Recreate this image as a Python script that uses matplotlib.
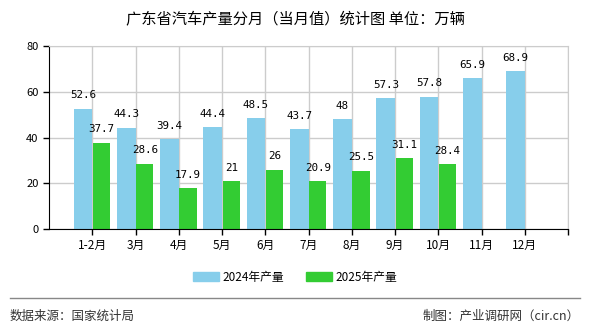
import matplotlib
matplotlib.use("Agg")
import matplotlib.pyplot as plt
import numpy as np
from matplotlib.patches import Patch

plt.rcParams['font.family'] = ['Noto Sans CJK SC', 'DejaVu Sans']

months = ["1-2月", "3月", "4月", "5月", "6月", "7月", "8月", "9月", "10月", "11月", "12月"]
prod_2024 = [52.6, 44.3, 39.4, 44.4, 48.5, 43.7, 48, 57.3, 57.8, 65.9, 68.9]
prod_2025 = [37.7, 28.6, 17.9, 21, 26, 20.9, 25.5, 31.1, 28.4]
yticks = [0, 20, 40, 60, 80]

c2024 = "#87ceeb"
c2025 = "#33cc33"

fig = plt.figure(figsize=(5.9, 3.3), dpi=100)
ax = fig.add_axes([49 / 590, 1 - 229 / 330, (568 - 49) / 590, (229 - 46) / 330])

x = np.arange(len(months))
w = 0.43
ax.bar(x[:len(prod_2024)] - w / 2, prod_2024, w, color=c2024, zorder=2)
ax.bar(x[:len(prod_2025)] + w / 2, prod_2025, w * 0.92, color=c2025, zorder=2)

# value labels sit a few points above each bar
for i, v in enumerate(prod_2024):
    ax.annotate(f"{v:g}", (i - w / 2, v), xytext=(0, 6), textcoords="offset points",
                ha="center", va="bottom", fontsize=7.8, family="DejaVu Sans Mono")
for i, v in enumerate(prod_2025):
    ax.annotate(f"{v:g}", (i + w / 2, v), xytext=(0, 6), textcoords="offset points",
                ha="center", va="bottom", fontsize=7.8, family="DejaVu Sans Mono")

ax.set_xlim(-1, len(months))
ax.set_ylim(0, 80)
ax.set_yticks(yticks)
ax.set_xticks(list(x) + [len(months)])
ax.set_xticklabels(months + [""])
ax.tick_params(axis="y", labelsize=8, length=4, width=1, color="black")
ax.tick_params(axis="x", labelsize=8.5, length=4, width=1, color="black")
ax.grid(True, color="#cccccc", linewidth=1, zorder=0)
ax.set_axisbelow(True)
for s in ("top", "right"):
    ax.spines[s].set_color("#cccccc")
for s in ("left", "bottom"):
    ax.spines[s].set_color("black")

fig.suptitle("广东省汽车产量分月（当月值）统计图 单位：万辆", y=0.965, fontsize=11)

handles = [Patch(color=c2024, label="2024年产量"), Patch(color=c2025, label="2025年产量")]
fig.legend(handles=handles, loc="center", bbox_to_anchor=(0.5, 1 - 277 / 330), ncol=2,
           frameon=False, fontsize=8.5, handlelength=2.2, handleheight=0.8, columnspacing=1.8,
           handletextpad=0.3)

fig.add_artist(plt.Line2D([10 / 590, 580 / 590], [1 - 298 / 330] * 2, color="#888888", lw=1))
fig.text(10 / 590, 1 - 316 / 330, "数据来源：国家统计局", fontsize=9, va="center", color="#333333")
fig.text(580 / 590, 1 - 316 / 330, "制图：产业调研网（cir.cn）", fontsize=9, va="center",
         ha="right", color="#333333")

fig.savefig("out.png", dpi=100)
